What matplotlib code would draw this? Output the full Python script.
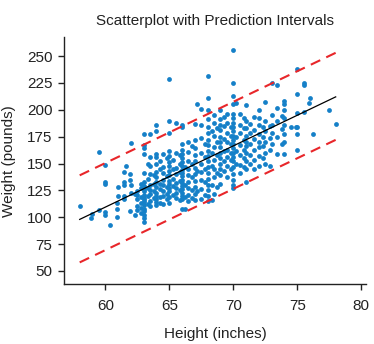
import matplotlib
matplotlib.use("Agg")
import matplotlib.pyplot as plt

heights = [58, 58.9, 59, 59.5, 60, 60.4, 60.9, 61, 61.5, 61.6, 61.9, 62, 62.3,
           62.5, 62.8, 63, 63.3, 63.5, 63.8, 64, 64.3, 64.5, 64.8, 65, 65.3,
           65.5, 65.8, 66, 66.2, 66.5, 66.8, 67, 67.2, 67.5, 67.8, 68, 68.3,
           68.5, 68.7, 69, 69.3, 69.5, 69.8, 70, 70.2, 70.5, 70.8, 71, 71.3,
           71.6, 72, 72.3, 72.5, 72.9, 73, 73.4, 73.8, 74, 74.5, 74.9, 75,
           75.5, 75.9, 76, 76.2, 77.5, 78]
weights = [
    [110], [99], [103], [107, 161], [102, 105, 131, 133, 149], [93],
    [100, 108, 113], [120, 128], [117, 120, 130, 133, 142], [148],
    [106, 135, 140], [123, 130, 169], [102, 122],
    [107, 110, 117, 121, 124], [104, 109, 113, 119, 127, 131],
    [96, 99, 102, 106, 108, 111, 114, 116, 118, 121, 124, 126, 129, 133,
     141, 159, 164, 167, 177],
    [112, 120, 127, 136, 150],
    [110, 115, 122, 125, 130, 140, 148, 156, 177],
    [118, 124, 131, 139],
    [111, 114, 117, 120, 123, 128, 133, 137, 142, 150, 156, 159, 180, 186],
    [113, 119, 126, 131, 145, 152],
    [112, 120, 124, 130, 135, 141, 147, 159],
    [117, 122, 128, 138, 155],
    [113, 119, 124, 127, 131, 134, 139, 143, 148, 151, 157, 162, 178, 190, 229],
    [121, 129, 136, 145, 153],
    [118, 123, 127, 132, 140, 146, 160, 188],
    [116, 125, 134, 142, 150, 158],
    [108, 117, 120, 123, 126, 129, 132, 135, 138, 141, 144, 148, 151, 155,
     159, 163, 168, 184, 186],
    [108, 119, 130, 147],
    [115, 121, 127, 133, 139, 145, 152, 161, 170],
    [118, 125, 137, 150, 166],
    [116, 122, 128, 134, 140, 146, 152, 158, 164, 172, 187],
    [124, 143, 205],
    [117, 126, 135, 142, 150, 160, 174, 186, 201],
    [121, 133, 145, 156, 168],
    [115, 120, 125, 130, 136, 141, 147, 152, 157, 162, 167, 172, 178, 184,
     191, 200, 211, 231],
    [116, 130, 148, 160, 180],
    [122, 137, 145, 153, 165, 176, 188, 195],
    [128, 141, 158, 170, 183],
    [131, 139, 145, 150, 155, 160, 165, 170, 175, 181, 186, 191, 200],
    [143, 152, 162, 173, 185, 193],
    [137, 148, 156, 163, 170, 178, 188, 196],
    [145, 153, 160, 168, 176, 184],
    [127, 130, 135, 140, 147, 152, 156, 160, 164, 168, 172, 176, 180, 184,
     188, 192, 196, 205, 213, 225, 256],
    [150, 162, 175, 206],
    [141, 149, 158, 167, 178, 186, 196],
    [147, 155, 163, 172, 183, 192],
    [133, 145, 152, 160, 166, 170, 176, 183, 190, 204],
    [150, 158, 168, 178, 187],
    [145, 153, 163, 173, 181, 193],
    [148, 157, 165, 170, 177, 186, 192, 200],
    [155, 166, 175, 184],
    [150, 160, 170, 180, 190, 207],
    [148, 163, 174, 185],
    [168, 178, 186, 195, 225],
    [159, 175, 190, 202, 223],
    [168, 182, 194],
    [159, 170, 177, 186, 192, 200, 205, 208],
    [184], [184],
    [163, 177, 184, 197, 215, 238],
    [198, 223, 225], [206], [211], [177], [200], [187],
]

# fitted line and prediction band, read at the two ends
line_x = [58, 78]
fit_y = [98, 212]
upper_y = [139, 253]
lower_y = [58, 172]

xs, ys = [], []
for h, col in zip(heights, weights):
    for w in col:
        xs.append(h)
        ys.append(w)

plt.rcParams['font.family'] = ['Liberation Sans', 'DejaVu Sans']
txt = '#222222'

fig = plt.figure(figsize=(3.74, 3.44), dpi=100)
ax = fig.add_axes([0.172, 0.1735, 0.806, 0.718])

ax.scatter(xs, ys, s=12, color='#1580c8', linewidths=0, zorder=2)
ax.plot(line_x, fit_y, color='black', lw=0.9, zorder=3)
ax.plot(line_x, upper_y, color='#e8262a', lw=1.5, dashes=(5, 3.2), zorder=3)
ax.plot(line_x, lower_y, color='#e8262a', lw=1.5, dashes=(5, 3.2), zorder=3)

ax.set_xlim(56.8, 80.35)
ax.set_ylim(37.6, 267.4)
ax.set_xticks([60, 65, 70, 75, 80])
ax.set_yticks([50, 75, 100, 125, 150, 175, 200, 225, 250])

for s in ('top', 'right'):
    ax.spines[s].set_visible(False)
for s in ('left', 'bottom'):
    ax.spines[s].set_linewidth(1.0)
    ax.spines[s].set_color('#222222')
ax.tick_params(direction='out', length=4.5, width=1.0, colors='#222222',
               labelcolor=txt, labelsize=11)
ax.tick_params(axis='x', pad=6)
ax.tick_params(axis='y', pad=4)

ax.set_title('Scatterplot with Prediction Intervals', fontsize=11,
             color=txt, pad=9)
ax.set_xlabel('Height (inches)', fontsize=11, color=txt, labelpad=10)
ax.set_ylabel('Weight (pounds)', fontsize=11, color=txt, labelpad=8)

fig.savefig('out.png', dpi=100)
